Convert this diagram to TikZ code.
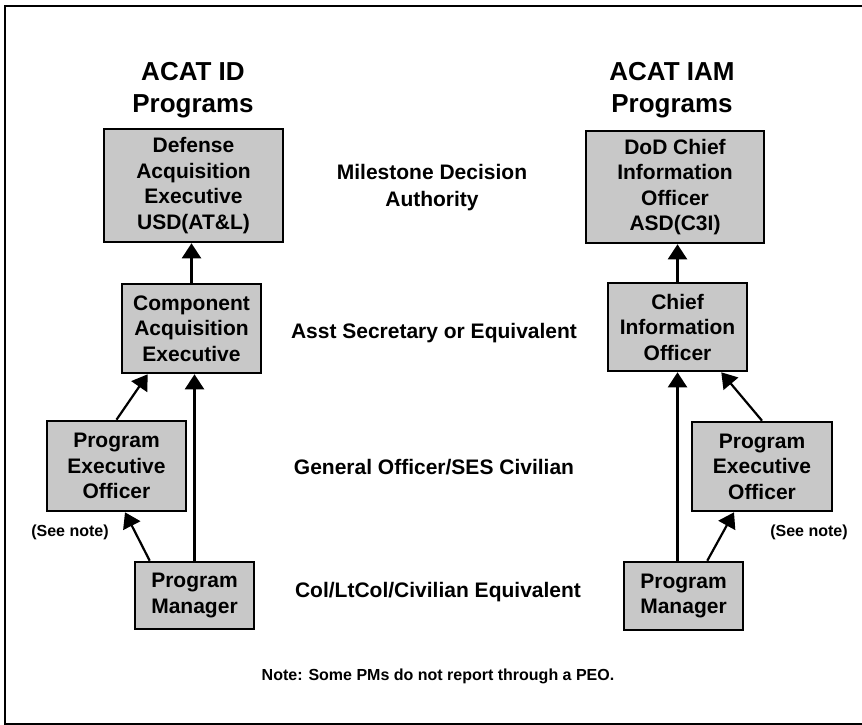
\documentclass[tikz,border=0pt]{standalone}
\usepackage{fontspec}
\setmainfont{Liberation Sans}
\usetikzlibrary{arrows.meta,calc}
\definecolor{boxgray}{RGB}{200,200,200}
\begin{document}
\begin{tikzpicture}[x=1pt,y=-1pt,
  orgbox/.style={draw=black,line width=2.6pt,fill=boxgray,align=center,inner sep=0pt,
    font=\fontsize{21}{25.5}\selectfont\bfseries},
  title/.style={align=center,inner sep=0pt,font=\fontsize{26}{32}\selectfont\bfseries},
  level/.style={align=center,inner sep=0pt,font=\fontsize{21}{27}\selectfont\bfseries},
  small/.style={align=center,inner sep=0pt,font=\fontsize{16}{19}\selectfont\bfseries},
  arr/.style={line width=2.2pt,-{Triangle[length=15pt,width=19pt]}}]
\useasboundingbox (0,0) rectangle (862,725);
\draw[line width=2.8pt] (862,6) -- (5,6) -- (5,724) -- (862,724);

% titles
\node[title] (t1) at (193,90) {ACAT ID\\Programs};
\node[title] (t2) at (672,90) {ACAT IAM\\Programs};

% left column
\node[orgbox,minimum width=179pt,minimum height=113pt] (dae) at (193.5,185.5) {Defense\\Acquisition\\Executive\\USD(AT\&L)};
\node[orgbox,minimum width=139pt,minimum height=89pt] (cae) at (191.5,328.5) {Component\\Acquisition\\Executive};
\node[orgbox,minimum width=139pt,minimum height=90pt] (peo1) at (116.5,466) {Program\\Executive\\Officer};
\node[orgbox,minimum width=119pt,minimum height=67pt] (pm1) at (194.5,595.5) {Program\\Manager};

% right column
\node[orgbox,minimum width=178pt,minimum height=112pt] (dod) at (675,187) {DoD Chief\\Information\\Officer\\ASD(C3I)};
\node[orgbox,minimum width=139pt,minimum height=88pt] (cio) at (677.5,327) {Chief\\Information\\Officer};
\node[orgbox,minimum width=140pt,minimum height=89pt] (peo2) at (762,466.5) {Program\\Executive\\Officer};
\node[orgbox,minimum width=119pt,minimum height=68pt] (pm2) at (683.5,596) {Program\\Manager};

% middle labels
\node[level] (l1) at (432,188) {Milestone Decision\\Authority};
\node[level] (l2) at (434,333) {Asst Secretary or Equivalent};
\node[level] (l3) at (434,467) {General Officer/SES Civilian};
\node[level] (l4) at (438,592) {Col/LtCol/Civilian Equivalent};
\node[small] (note) at (438,676) {Note: Some PMs do not report through a PEO.};
\node[small] (sn1) at (70,532) {(See note)};
\node[small] (sn2) at (809,532) {(See note)};

% left arrows
\draw[arr] (cae.north) -- (cae.north |- dae.south);
\draw[arr] (peo1.north) -- ($(cae.south west)+(27,0)$);
\draw[arr] (pm1.north) -- (pm1.north |- cae.south);
\draw[arr] ($(pm1.north west)+(16,0)$) -- ($(peo1.south)+(8.5,0)$);

% right arrows
\draw[arr] (cio.north) -- (cio.north |- dod.south);
\draw[arr] (peo2.north) -- ($(cio.south east)+(-27,0)$);
\draw[arr] (cio.south |- pm2.north) -- (cio.south);
\draw[arr] ($(pm2.north east)+(-37,0)$) -- ($(peo2.south)+(-28,0)$);
\end{tikzpicture}
\end{document}
